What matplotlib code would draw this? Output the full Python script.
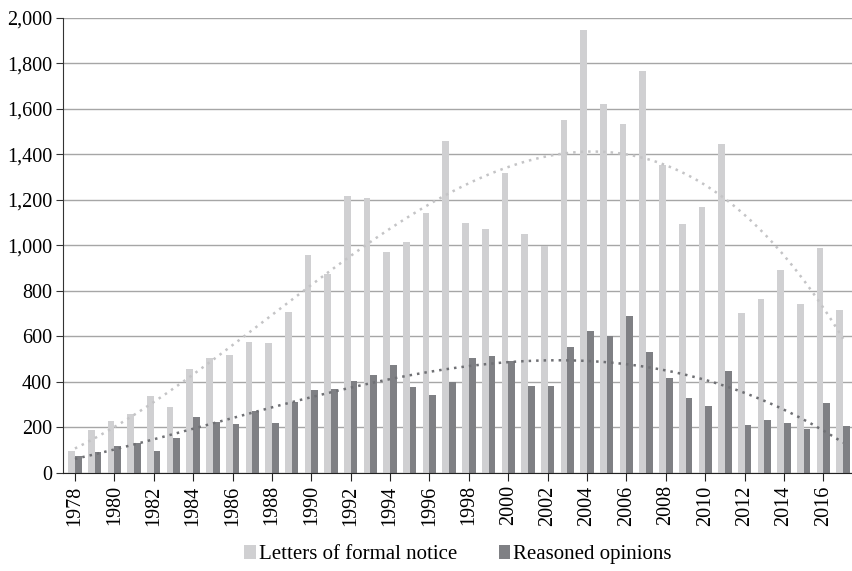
import numpy as np
import matplotlib.pyplot as plt
from matplotlib.ticker import FuncFormatter

years = list(range(1978, 2018))
letters = [95, 187, 227, 258, 337, 288, 455, 504, 517, 574,
           570, 706, 959, 875, 1218, 1209, 972, 1016, 1143, 1460,
           1099, 1073, 1319, 1051, 998, 1552, 1947, 1622, 1534, 1764,
           1351, 1095, 1170, 1446, 701, 763, 890, 741, 987, 714]
opinions = [72, 91, 117, 130, 95, 152, 245, 223, 214, 271,
            218, 310, 363, 367, 403, 429, 473, 376, 344, 398,
            504, 512, 490, 381, 381, 552, 621, 600, 688, 530,
            416, 328, 293, 447, 209, 231, 218, 192, 306, 205]

light = "#d0d0d2"
dark = "#7f8084"

plt.rcParams['font.family'] = ['Liberation Serif', 'DejaVu Serif']

fig = plt.figure(figsize=(8.53, 5.71), dpi=100)
ax = fig.add_axes([0.074, 0.172, 0.926, 0.797])

x = np.arange(len(years))
w = 0.34
ax.bar(x - w / 2, letters, width=w, color=light, label="Letters of formal notice", zorder=2)
ax.bar(x + w / 2, opinions, width=w, color=dark, label="Reasoned opinions", zorder=2)

# polynomial trendlines fitted to the data
xs = np.linspace(0, len(years) - 1, 200)
for vals, c in [(letters, "#c4c4c6"), (opinions, "#6f7074")]:
    p = np.polyfit(x, vals, 3)
    ax.plot(xs, np.polyval(p, xs), linestyle=(0, (1, 2)), color=c, lw=1.8, zorder=3)

ax.set_xlim(-0.6, len(years) - 0.5)
ax.set_ylim(0, 2000)
ax.set_yticks(range(0, 2001, 200))
ax.yaxis.set_major_formatter(FuncFormatter(lambda v, _: f"{int(v):,}"))
ax.set_xticks(x[::2])
ax.set_xticklabels([str(y) for y in years[::2]], rotation=90)
ax.grid(axis='y', color="#a6a6a6", lw=1, zorder=0)
ax.set_axisbelow(True)

for s in ['top', 'right']:
    ax.spines[s].set_visible(False)
ax.spines['left'].set_color("#333333")
ax.spines['bottom'].set_color("#222222")
ax.tick_params(axis='y', length=5, color="#333333", labelsize=14.5, pad=3)
ax.tick_params(axis='x', length=6, color="#222222", labelsize=14.5, pad=3)

ax.legend(loc='upper center', bbox_to_anchor=(0.5, -0.118), ncol=2, frameon=False,
          fontsize=15, handlelength=0.55, handleheight=0.6, handletextpad=0.15,
          columnspacing=2.0)

fig.savefig("out.png", dpi=100)
